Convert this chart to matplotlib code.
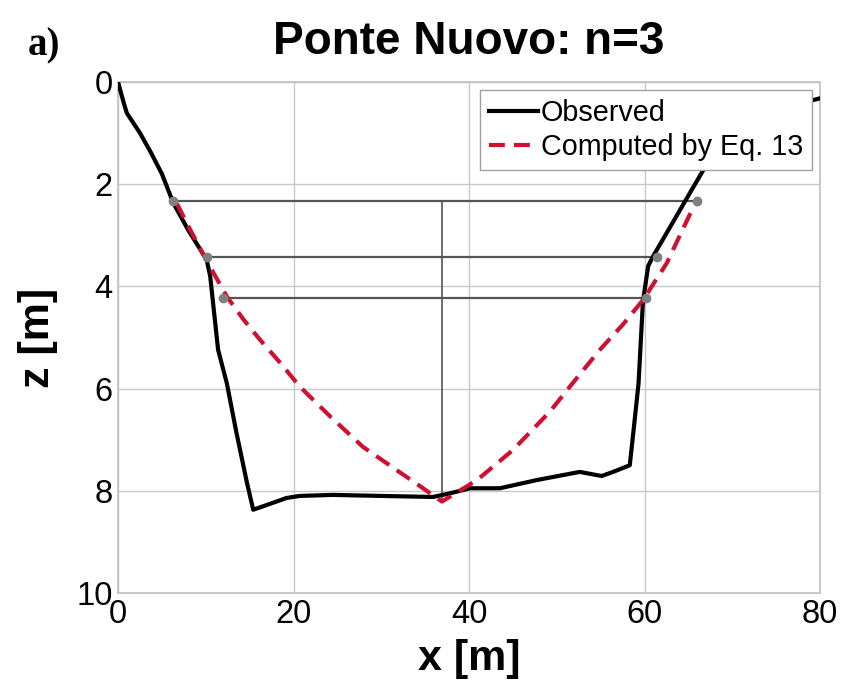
import matplotlib
matplotlib.use("Agg")
import matplotlib.pyplot as plt

# surveyed cross-section (x = distance, z = depth)
obs_x = [0, 0.6, 1.0, 2.5, 3.8, 5.0, 6.3, 8.0, 10.1, 10.5, 11.4, 12.4, 13.5, 14.7, 15.4,
         16.9, 19.2, 20.7, 24.5, 30.0, 35.9, 37.8, 40.1, 43.5, 47.7, 52.6, 55.1, 56.4,
         58.3, 58.7, 59.3, 59.8, 60.4, 61.0, 65.4, 66.9, 68.5, 71.0, 76.0, 80.0]
obs_z = [0, 0.38, 0.61, 1.0, 1.4, 1.8, 2.37, 2.9, 3.48, 3.8, 5.24, 5.9, 6.87, 7.85, 8.37,
         8.28, 8.14, 8.1, 8.08, 8.1, 8.12, 8.05, 7.95, 7.95, 7.79, 7.63, 7.71, 7.63,
         7.5, 6.87, 5.9, 4.3, 3.6, 3.4, 2.1, 1.66, 1.2, 0.8, 0.5, 0.32]

# section shape from Eq. 13 with n=3
eq_x = [6.7, 8.4, 10.1, 12.4, 14.3, 16.2, 18.5, 20.7, 24.2, 27.9, 31.7, 34.5, 36.9,
        40.9, 45.0, 49.2, 52.0, 54.9, 57.5, 59.8, 62.5, 65.4, 66.0]
eq_z = [2.38, 2.95, 3.5, 4.2, 4.65, 5.05, 5.5, 5.96, 6.55, 7.14, 7.59, 7.92, 8.21,
        7.79, 7.2, 6.45, 5.85, 5.24, 4.75, 4.27, 3.55, 2.5, 2.36]

# water levels used for the fit: depth, left bank x, right bank x
lev_z = [2.34, 3.42, 4.23]
lev_xl = [6.3, 10.1, 12.0]
lev_xr = [66.0, 61.4, 60.2]

# thalweg position
thal_x = 36.9
thal_z = [2.34, 8.21]

fig = plt.figure(figsize=(8.43, 6.88), dpi=100)
ax = fig.add_axes([0.140, 0.138, 0.833, 0.743])

for z, xl, xr in zip(lev_z, lev_xl, lev_xr):
    ax.plot([xl, xr], [z, z], color='#555555', lw=1.6, zorder=2)
    ax.plot([xl, xr], [z, z], ls='none', marker='o', ms=6, color='#808080', zorder=4)
ax.plot([thal_x, thal_x], thal_z, color='#555555', lw=1.2, zorder=2)

ax.plot(obs_x, obs_z, color='black', lw=3, label='Observed', zorder=3)
ax.plot(eq_x, eq_z, color='#d01030', lw=3, ls=(0, (3.8, 2.2)),
        label='Computed by Eq. 13', zorder=3)

ax.set_xlim(0, 80)
ax.set_ylim(10, 0)
ax.set_xticks([0, 20, 40, 60, 80])
ax.set_yticks([0, 2, 4, 6, 8, 10])
ax.tick_params(length=0, labelsize=23.5, pad=4)
ax.grid(True, color='#c8c8c8', lw=1)
for s in ax.spines.values():
    s.set_color('#c0c0c0')
    s.set_linewidth(1.2)

ax.set_xlabel('x [m]', fontsize=31, fontweight='bold', family='Liberation Sans')
ax.set_ylabel('z [m]', fontsize=31, fontweight='bold', family='Liberation Sans')
ax.xaxis.set_label_coords(0.5, -0.09)
ax.yaxis.set_label_coords(-0.085, 0.5)
for lab in ax.get_xticklabels() + ax.get_yticklabels():
    lab.set_family('Liberation Sans')

leg = ax.legend(loc='upper right', handlelength=1.7, handletextpad=0.1,
                labelspacing=0.22, borderaxespad=0.3, borderpad=0.3,
                fancybox=False, framealpha=1, edgecolor='#a0a0a0',
                prop={'family': 'Liberation Sans', 'size': 20.7})
leg.set_zorder(5)
leg.get_frame().set_linewidth(1)

fig.text(0.556, 0.939, 'Ponte Nuovo: n=3', ha='center', va='center',
         fontsize=33, fontweight='bold', family='Liberation Sans')
fig.text(0.052, 0.933, 'a)', ha='center', va='center',
         fontsize=28, fontweight='bold', family='Liberation Serif')

fig.savefig('out.png', dpi=100)
